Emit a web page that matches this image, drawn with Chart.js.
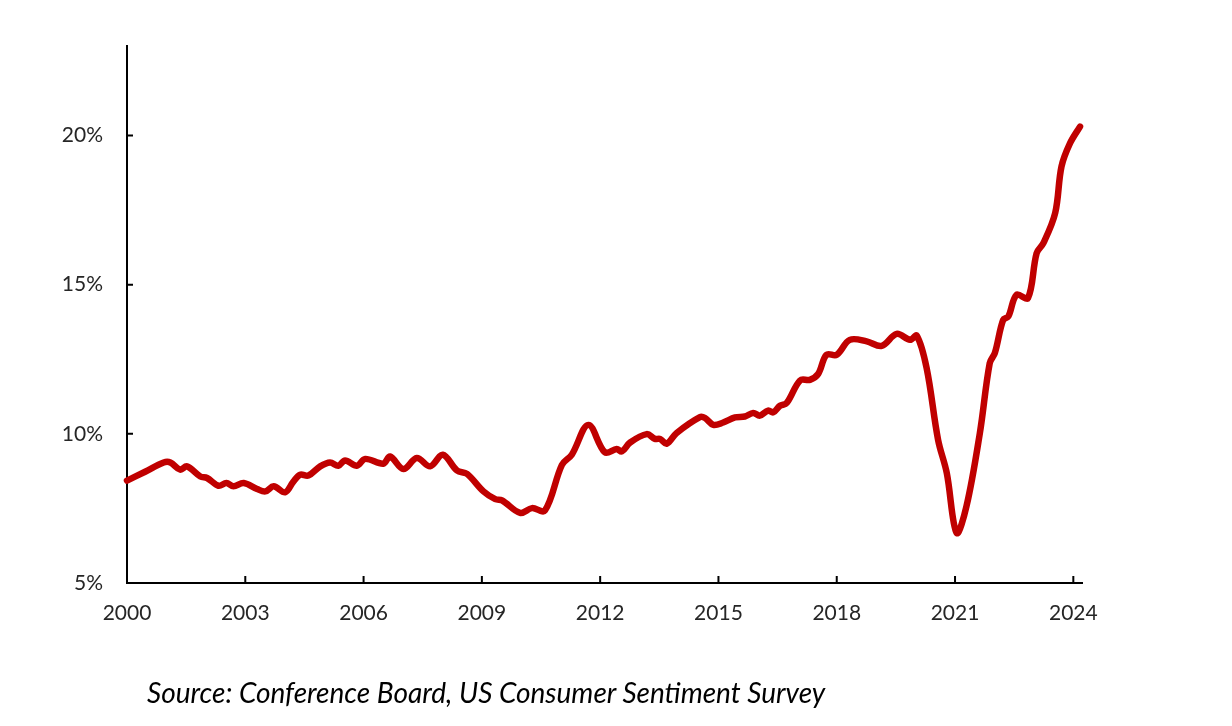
<!DOCTYPE html>
<html lang="en">
<head>
  <meta charset="UTF-8">
  <title>US Consumer Sentiment</title>
  <script src="https://cdn.jsdelivr.net/npm/chart.js"></script>
  <style>
    html, body {
      margin: 0;
      padding: 0;
      background: #fff;
    }
    .wrap {
      position: relative;
      width: 1232px;
      height: 726px;
    }
    canvas {
      display: block;
    }
    .source {
      position: absolute;
      left: 147px;
      top: 674px;
      font-family: Lato, "Open Sans", sans-serif;
      font-style: italic;
      font-size: 28px;
      line-height: 36px;
      color: #000;
      white-space: nowrap;
    }
  </style>
</head>
<body>

<div class="wrap">
  <canvas id="chart" width="1232" height="726"></canvas>
  <div class="source">Source: Conference Board, US Consumer Sentiment Survey</div>
</div>

<script>
  // decimal years and values (%)
  const years = [
    2000.00, 2000.46, 2000.93, 2001.10, 2001.35, 2001.52, 2001.86, 2002.03, 2002.32, 2002.52,
    2002.70, 2002.96, 2003.30, 2003.51, 2003.72, 2004.01, 2004.22, 2004.39, 2004.60, 2004.90,
    2005.15, 2005.36, 2005.53, 2005.83, 2006.04, 2006.50, 2006.67, 2007.01, 2007.35, 2007.69,
    2008.01, 2008.37, 2008.62, 2009.04, 2009.34, 2009.51, 2009.97, 2010.27, 2010.60, 2011.03,
    2011.28, 2011.70, 2012.12, 2012.42, 2012.55, 2012.76, 2013.18, 2013.39, 2013.52, 2013.69,
    2013.94, 2014.53, 2014.66, 2014.87, 2015.12, 2015.42, 2015.67, 2015.88, 2016.05, 2016.26,
    2016.39, 2016.56, 2016.73, 2017.07, 2017.32, 2017.53, 2017.74, 2018.00, 2018.33, 2018.76,
    2019.14, 2019.52, 2019.86, 2020.03, 2020.28, 2020.57, 2020.79, 2021.04, 2021.29, 2021.63,
    2021.88, 2022.01, 2022.22, 2022.35, 2022.56, 2022.85, 2023.07, 2023.24, 2023.54, 2023.70,
    2023.92, 2024.17
  ];
  const values = [
    8.43, 8.73, 9.04, 9.04, 8.80, 8.91, 8.57, 8.52, 8.26, 8.35,
    8.24, 8.35, 8.15, 8.07, 8.24, 8.04, 8.40, 8.63, 8.60, 8.91,
    9.04, 8.93, 9.11, 8.93, 9.16, 9.00, 9.24, 8.82, 9.19, 8.91,
    9.30, 8.77, 8.66, 8.07, 7.81, 7.77, 7.35, 7.51, 7.43, 8.96,
    9.30, 10.30, 9.38, 9.49, 9.41, 9.71, 9.99, 9.83, 9.83, 9.67,
    10.03, 10.56, 10.53, 10.30, 10.38, 10.55, 10.58, 10.70, 10.61, 10.78,
    10.72, 10.94, 11.03, 11.79, 11.81, 12.01, 12.65, 12.65, 13.15, 13.10,
    12.95, 13.35, 13.15, 13.29, 12.20, 9.80, 8.69, 6.68, 7.57, 10.03,
    12.37, 12.71, 13.82, 13.93, 14.66, 14.55, 16.06, 16.39, 17.40, 18.96,
    19.75, 20.30
  ];
  const xTicks = [2000, 2003, 2006, 2009, 2012, 2015, 2018, 2021, 2024];
  const yTicks = [5, 10, 15, 20];

  const points = years.map((y, i) => ({ x: y, y: values[i] }));
  const tickFont = { family: "Lato, 'Open Sans', sans-serif", size: 21 };

  // short tick marks pointing into the plot
  const innerTicks = {
    id: "innerTicks",
    afterDraw(chart) {
      const ctx = chart.ctx;
      const xs = chart.scales.x, ys = chart.scales.y;
      const area = chart.chartArea;
      ctx.save();
      ctx.strokeStyle = "#000";
      ctx.lineWidth = 2;
      ctx.beginPath();
      xTicks.forEach(t => {
        const px = xs.getPixelForValue(t);
        ctx.moveTo(px, area.bottom);
        ctx.lineTo(px, area.bottom - 7);
      });
      yTicks.forEach(t => {
        const py = ys.getPixelForValue(t);
        ctx.moveTo(area.left, py);
        ctx.lineTo(area.left + 6, py);
      });
      ctx.stroke();
      ctx.restore();
    }
  };

  new Chart(document.getElementById("chart"), {
    type: "line",
    data: {
      datasets: [{
        data: points,
        borderColor: "#C00000",
        borderWidth: 6.5,
        borderCapStyle: "round",
        borderJoinStyle: "round",
        pointRadius: 0,
        tension: 0.35,
        fill: false,
        clip: false
      }]
    },
    options: {
      responsive: false,
      animation: false,
      layout: { padding: { top: 46, right: 150, left: 0, bottom: 0 } },
      plugins: {
        legend: { display: false },
        tooltip: { enabled: false }
      },
      scales: {
        x: {
          type: "linear",
          min: 2000,
          max: 2024.22,
          afterBuildTicks: s => { s.ticks = xTicks.map(v => ({ value: v })); },
          afterFit: s => { s.height = 143; },
          grid: { display: false, drawTicks: false },
          border: { display: true, color: "#000", width: 2 },
          ticks: {
            color: "#262626",
            font: tickFont,
            padding: 18,
            maxRotation: 0,
            autoSkip: false,
            callback: v => String(v)
          }
        },
        y: {
          min: 5,
          max: 23,
          afterBuildTicks: s => { s.ticks = yTicks.map(v => ({ value: v })); },
          afterFit: s => { s.width = 127; },
          grid: { display: false, drawTicks: false },
          border: { display: true, color: "#000", width: 2 },
          ticks: {
            color: "#262626",
            font: tickFont,
            padding: 24,
            callback: v => v + "%"
          }
        }
      }
    },
    plugins: [innerTicks]
  });
</script>

</body>
</html>
